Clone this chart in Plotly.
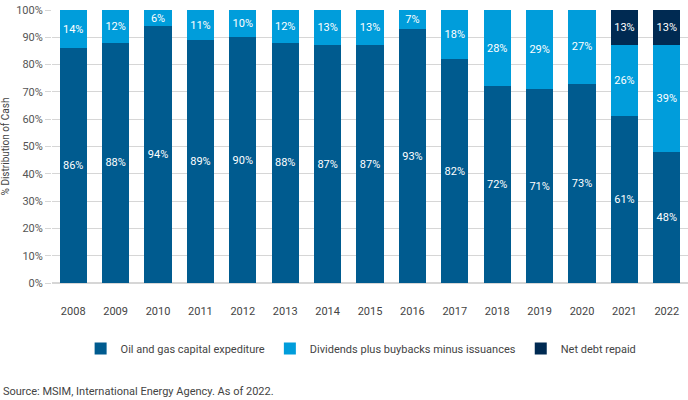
import plotly.graph_objects as go

# share of cash distribution, oil & gas industry
years = ['2008', '2009', '2010', '2011', '2012', '2013', '2014', '2015',
         '2016', '2017', '2018', '2019', '2020', '2021', '2022']
capex = [86, 88, 94, 89, 90, 88, 87, 87, 93, 82, 72, 71, 73, 61, 48]
dividends = [14, 12, 6, 11, 10, 12, 13, 13, 7, 18, 28, 29, 27, 26, 39]
debt_repaid = [0, 0, 0, 0, 0, 0, 0, 0, 0, 0, 0, 0, 0, 13, 13]

series = [
    ('Oil and gas capital expediture', capex, '#005b8f'),
    ('Dividends plus buybacks minus issuances', dividends, '#009ddb'),
    ('Net debt repaid', debt_repaid, '#002a52'),
]

fig = go.Figure()
for name, vals, col in series:
    fig.add_trace(go.Bar(
        x=years, y=vals, name=name,
        marker=dict(color=col, line=dict(width=0)),
        text=[f'{v}%' if v else '' for v in vals],
        textposition='inside', insidetextanchor='middle', textangle=0,
        constraintext='none',
        textfont=dict(color='white', size=11, family='Roboto'),
        hoverinfo='skip',
    ))

fig.update_layout(
    barmode='stack', bargap=0.36,
    width=688, height=400,
    margin=dict(l=52, r=0, t=10, b=117),
    plot_bgcolor='white', paper_bgcolor='white',
    font=dict(family='Roboto', size=11, color='#444444'),
    showlegend=True,
    legend=dict(orientation='h', x=0.045, xanchor='left', y=-0.24, yanchor='middle',
                font=dict(size=11, color='#444444', family='Liberation Sans Narrow, Roboto'),
                itemwidth=30, traceorder='normal'),
    xaxis=dict(showgrid=False, showline=False, ticks='', ticklabelstandoff=20,
               tickfont=dict(size=11, color='#444444')),
    yaxis=dict(range=[0, 100], dtick=10, ticksuffix='%', showgrid=True,
               gridcolor='#d6d6d6', gridwidth=1, zeroline=True, zerolinecolor='#d6d6d6',
               ticks='outside', ticklen=6, tickcolor='#d6d6d6',
               tickfont=dict(size=11, color='#555555'),
               title=dict(text='% Distribution of Cash', standoff=8,
                          font=dict(size=10, color='#444444'))),
)

fig.add_annotation(text='Source: MSIM, International Energy Agency. As of 2022.',
                   xref='paper', yref='paper', x=-0.08, y=-0.397,
                   xanchor='left', yanchor='middle', showarrow=False,
                   font=dict(size=11, color='#444444'))

# page has a default body margin; drop it so the figure sits at the corner
fig.write_html('out.html', config={'displayModeBar': False},
               post_script="document.body.style.margin='0px';")
